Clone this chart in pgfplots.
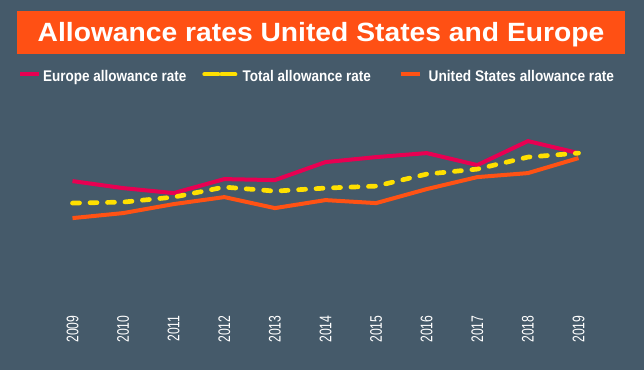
\documentclass[border=0pt]{standalone}
\usepackage{pgfplots}
\pgfplotsset{compat=1.18}
\usepackage{fontspec}
\setmainfont{Liberation Sans}
\definecolor{bg}{RGB}{69,90,106}
\definecolor{banner}{RGB}{255,80,20}
\definecolor{eu}{RGB}{232,0,82}
\definecolor{tot}{RGB}{255,224,0}
\definecolor{us}{RGB}{255,82,20}
\newcommand{\tl}[1]{\scalebox{1}[1.38]{#1}}
\begin{document}
\begin{tikzpicture}
\fill[bg] (0bp,0bp) rectangle (644bp,370bp);
\fill[banner] (17bp,316bp) rectangle (625bp,359.3bp);
\node[text=white, font=\fontsize{26.5}{30}\selectfont\bfseries, anchor=base, inner sep=0pt] at (321bp,329bp) {\scalebox{1.07}[1]{Allowance rates United States and Europe}};
\begin{axis}[
  at={(72.5bp,60bp)}, anchor=south west,
  scale only axis, width=506bp, height=310bp,
  xmin=0, xmax=10, ymin=0, ymax=310,
  clip=false,
  axis line style={draw=none},
  major tick length=0pt,
  ytick=\empty,
  xtick={0,1,2,3,4,5,6,7,8,9,10},
  xticklabels={\tl{2009},\tl{2010},\tl{2011},\tl{2012},\tl{2013},\tl{2014},\tl{2015},\tl{2016},\tl{2017},\tl{2018},\tl{2019}},
  xticklabel shift=2bp,
  xticklabel style={rotate=90, anchor=east, text=white, font=\fontsize{12.2}{14}\selectfont},
  legend columns=3,
  legend cell align=left,
  legend style={draw=none, fill=none, at={(-0.1077,0.752)}, anchor=west,
    inner sep=0pt, outer sep=0pt, column sep=0pt,
    nodes={inner sep=0pt, text=white},
    font=\fontsize{15.5}{17}\selectfont\bfseries},
]
\addplot[eu, line width=4bp, line join=round,
  legend image code/.code={\draw[eu, solid, line width=4bp] (0bp,2.5bp) -- (19bp,2.5bp); \path (0bp,0bp) (21bp,0bp);}]
  coordinates {(0,129) (1,122) (2,117) (3,131) (4,130) (5,148) (6,153) (7,157) (8,145) (9,169) (10,157)};
\addlegendentry{\makebox[159bp][l]{\scalebox{0.875}[1]{Europe allowance rate}}}
\addplot[tot, line width=4.7bp, line cap=round, line join=round, dash pattern=on 7bp off 10.5bp,
  legend image code/.code={\draw[tot, solid, line width=4bp] (0bp,2.5bp) -- (14bp,2.5bp); \draw[tot, solid, line width=4bp] (17bp,2.5bp) -- (31bp,2.5bp); \path (0bp,0bp) (36bp,0bp);}]
  coordinates {(0,107) (1,108) (2,113) (3,123) (4,119) (5,122) (6,124) (7,136) (8,141) (9,153) (10,157)};
\addlegendentry{\makebox[156bp][l]{\scalebox{0.875}[1]{Total allowance rate}}}
\addplot[us, line width=4bp, line join=round,
  legend image code/.code={\draw[us, solid, line width=4bp] (0bp,2.5bp) -- (19bp,2.5bp); \path (0bp,0bp) (26bp,0bp);}]
  coordinates {(0,92) (1,97) (2,106) (3,113) (4,102) (5,110) (6,107) (7,121) (8,133) (9,137) (10,152)};
\addlegendentry{\makebox[181bp][l]{\scalebox{0.885}[1]{United States allowance rate}}}
\end{axis}
\end{tikzpicture}
\end{document}
